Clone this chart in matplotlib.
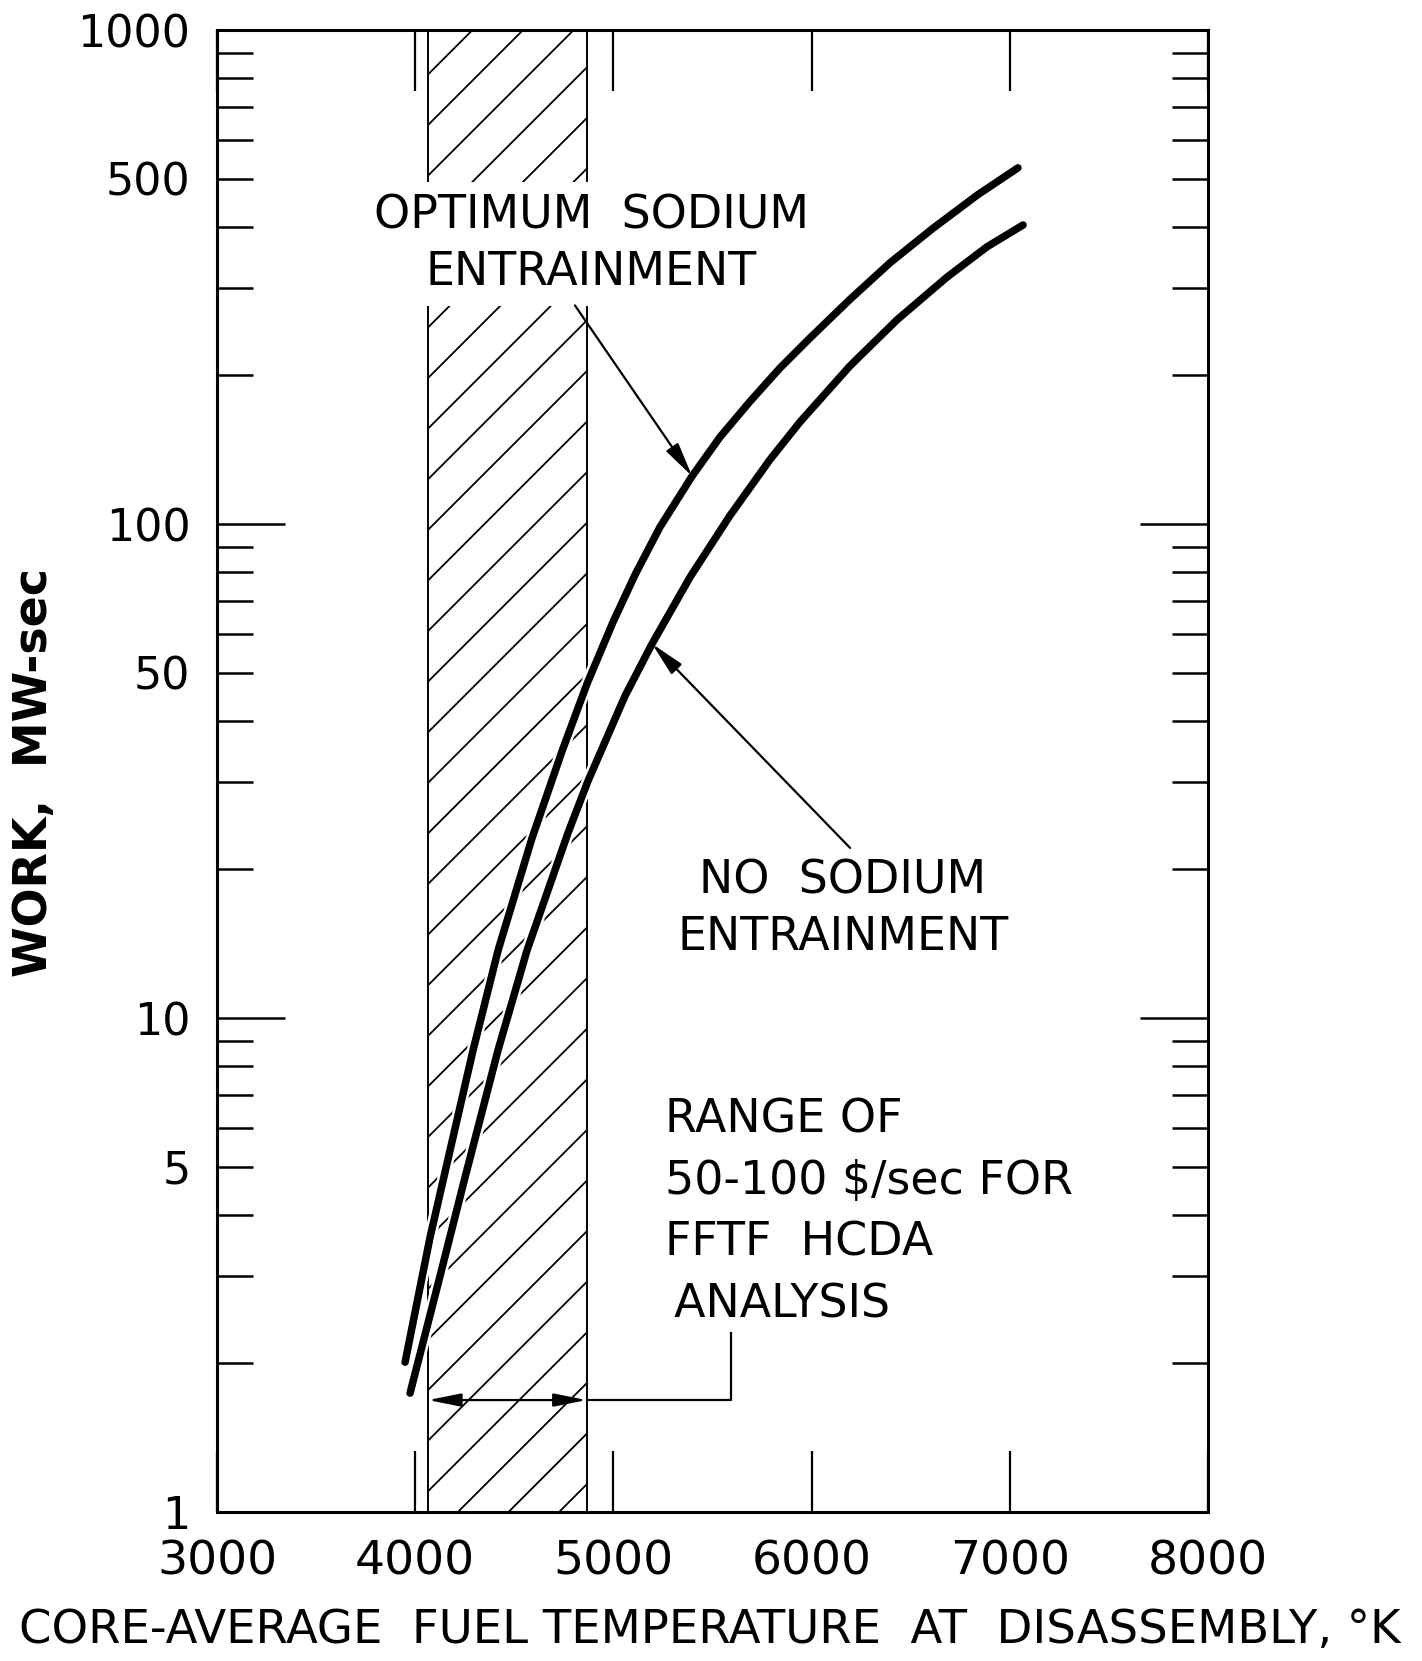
import matplotlib
matplotlib.use("Agg")
import matplotlib.pyplot as plt
import matplotlib.patheffects as pe
from matplotlib.ticker import FixedLocator, FuncFormatter

plt.rcParams["font.family"] = ["DejaVu Sans"]

# Work released vs. core-average fuel temperature at disassembly
temp_optimum = [3949, 4075, 4292, 4418, 4589, 4741, 4867, 4998, 5109, 5235,
                5397, 5538, 5689, 5841, 5992, 6194, 6396, 6613, 6835, 7041]
work_optimum = [2.01, 3.60, 8.61, 13.7, 23.1, 34.7, 47.5, 63.3, 78.9, 98.6,
                125, 150, 177, 207, 238, 285, 338, 397, 463, 526]

temp_no_sodium = [3974, 4125, 4251, 4418, 4564, 4771, 4872, 5059, 5195, 5387,
                  5588, 5790, 5942, 6194, 6431, 6683, 6885, 7067]
work_no_sodium = [1.74, 3.00, 4.75, 8.61, 13.7, 23.7, 30.2, 44.9, 57.2, 78.1,
                  104, 135, 161, 209, 259, 316, 364, 403]

# Temperature range for 50-100 $/sec (FFTF HCDA analysis)
band_temps = [4065, 4865]

x_ticks = [3000, 4000, 5000, 6000, 7000, 8000]
y_decades = [1, 10, 100, 1000]
y_minor = [m * d for d in [1, 10, 100] for m in range(2, 10)]
y_minor_labelled = [5, 50, 500]

# Bracket linking the range note to the shaded band
bracket_work = 1.685
bracket_corner_temp = 5593
bracket_top_work = 2.30

FIG_W, FIG_H, DPI = 14.22, 16.61, 100
fig = plt.figure(figsize=(FIG_W, FIG_H), dpi=DPI, facecolor="white")
ax_rect = [217 / 1422, 1 - 1512 / 1661, 991 / 1422, 1482 / 1661]
ax = fig.add_axes(ax_rect)

ax.set_xlim(3000, 8000)
ax.set_yscale("log")
ax.set_ylim(1, 1000)

for s in ax.spines.values():
    s.set_linewidth(2.2)
    s.set_zorder(6)

ax.set_xticks(x_ticks)
ax.set_xticklabels([str(t) for t in x_ticks])
ax.tick_params(axis="x", which="major", direction="in", length=44, width=1.6,
               top=True, bottom=True, labelsize=34, pad=20)
ax.xaxis.set_minor_locator(FixedLocator([]))

ax.yaxis.set_major_locator(FixedLocator(y_decades))
ax.yaxis.set_major_formatter(FuncFormatter(lambda v, p: f"{v:g}"))
ax.yaxis.set_minor_locator(FixedLocator(y_minor))
ax.yaxis.set_minor_formatter(
    FuncFormatter(lambda v, p: f"{v:g}" if round(v) in y_minor_labelled else ""))
ax.tick_params(axis="y", which="major", direction="in", length=49, width=1.8,
               left=True, right=True, labelsize=32, pad=19)
ax.tick_params(axis="y", which="minor", direction="in", length=26, width=1.8,
               left=True, right=True, labelsize=32, pad=19)

# Shaded band: edges plus 45-degree hatch drawn in axes coordinates
ax_w_px = ax_rect[2] * FIG_W * DPI
ax_h_px = ax_rect[3] * FIG_H * DPI
xl = (band_temps[0] - 3000) / 5000 * ax_w_px
xr = (band_temps[1] - 3000) / 5000 * ax_w_px
for t in band_temps:
    ax.axvline(t, color="black", lw=1.4, zorder=2)
spacing, phase = 50.6, 122.0
c = phase - spacing * int((phase + (xr - xl)) / spacing + 1)
while c < ax_h_px:
    # line: y = c + (x - xl), clipped to band and axes height
    xa = max(xl, xl + (0 - c))
    xb = min(xr, xl + (ax_h_px - c))
    if xb > xa:
        ya, yb = c + (xa - xl), c + (xb - xl)
        ax.plot([xa / ax_w_px, xb / ax_w_px], [ya / ax_h_px, yb / ax_h_px],
                transform=ax.transAxes, color="black", lw=1.3, zorder=2,
                solid_capstyle="butt")
    c += spacing

halo = [pe.Stroke(linewidth=9.0, foreground="white"), pe.Normal()]
ax.plot(temp_optimum, work_optimum, color="black", lw=5.4,
        solid_capstyle="round", solid_joinstyle="round", zorder=4,
        path_effects=halo)
ax.plot(temp_no_sodium, work_no_sodium, color="black", lw=5.4,
        solid_capstyle="round", solid_joinstyle="round", zorder=4,
        path_effects=halo)

label_kw = dict(fontsize=33, color="black", ha="center", va="center",
                multialignment="center", linespacing=1.33)
ax.text(4887, 369, "OPTIMUM  SODIUM\nENTRAINMENT", zorder=3,
        bbox=dict(facecolor="white", edgecolor="none", pad=8), **label_kw)
ax.text(6158, 16.6, "NO  SODIUM\nENTRAINMENT", zorder=3, **label_kw)
ax.text(5260, 4.04, "RANGE OF\n50-100 $/sec FOR\nFFTF  HCDA\n\u2009ANALYSIS",
        fontsize=33, color="black", ha="left", va="center",
        multialignment="left", linespacing=1.47, zorder=3)

arrow_kw = dict(arrowstyle="-|>,head_length=1.05,head_width=0.22",
                color="black", lw=1.6, shrinkA=0, shrinkB=0, mutation_scale=20)
ax.annotate("", xy=(temp_optimum[10], work_optimum[10]), xytext=(4806, 277),
            arrowprops=arrow_kw, zorder=5)
ax.annotate("", xy=(temp_no_sodium[8], work_no_sodium[8]), xytext=(6194, 22.1),
            arrowprops=arrow_kw, zorder=5)

ax.annotate("", xy=(band_temps[0], bracket_work), xytext=(band_temps[1], bracket_work),
            arrowprops=dict(arrowstyle="<|-|>,head_length=1.0,head_width=0.2",
                            color="black", lw=1.6, shrinkA=0, shrinkB=0,
                            mutation_scale=20), zorder=5)
ax.plot([band_temps[1], bracket_corner_temp, bracket_corner_temp],
        [bracket_work, bracket_work, bracket_top_work],
        color="black", lw=1.6, zorder=5)

fig.text(35 / 1422, 1 - 772 / 1661, "WORK,  MW-sec", rotation=90,
         ha="center", va="center", fontsize=33, fontweight="bold")
fig.text(710 / 1422, 1 - 1630 / 1661,
         "CORE-AVERAGE  FUEL TEMPERATURE  AT  DISASSEMBLY, \u00b0K",
         ha="center", va="center", fontsize=33.5)

fig.savefig("out.png", dpi=DPI, facecolor="white")
